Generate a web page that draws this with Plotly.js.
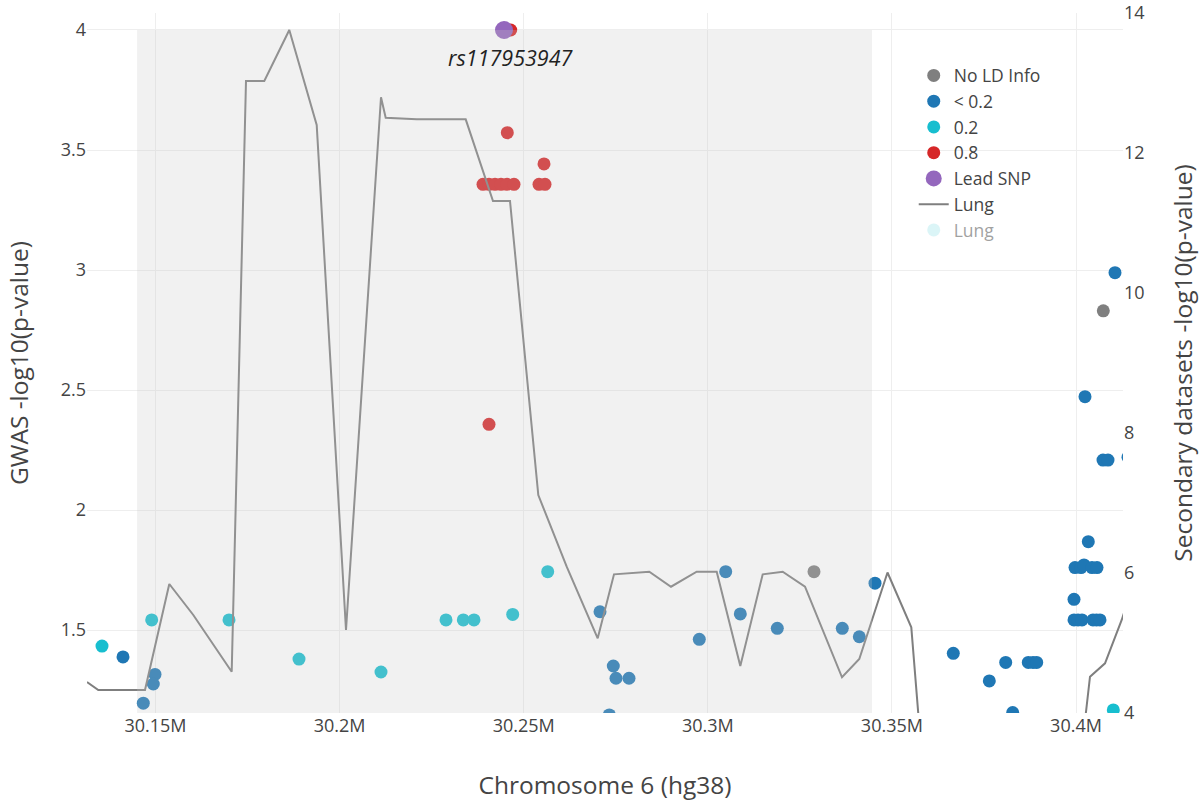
<!DOCTYPE html>
<html>
<head>
<meta charset="utf-8">
<script src="https://cdn.plot.ly/plotly-3.0.1.min.js"></script>
<style>html,body{margin:0;padding:0;background:#fff;}#chart{width:1199px;height:801px;}</style>
</head>
<body>
<div id="chart"></div>
<script>
// ---- GWAS points by LD category (x: position bp, y: -log10 p) ----
const noLdX = [30328843, 30407415];
const noLdY = [1.743, 2.830];

const ldLowX = [30141173, 30149864, 30149402, 30146687, 30270722, 30274335, 30273248, 30275068, 30278599,
  30297692, 30304862, 30308827, 30318876, 30336529, 30341146, 30345410, 30366676, 30376453, 30380907,
  30382808, 30387045, 30388321, 30389326, 30399457, 30399457, 30400543, 30401630, 30404617, 30405568,
  30406518, 30399728, 30401358, 30402173, 30404345, 30405703, 30403340, 30402444, 30407333, 30408691,
  30414123, 30410592];
const ldLowY = [1.388, 1.315, 1.275, 1.195, 1.576, 1.350, 1.146, 1.299, 1.299,
  1.461, 1.743, 1.567, 1.507, 1.507, 1.472, 1.695, 1.403, 1.288, 1.365,
  1.156, 1.365, 1.365, 1.365, 1.628, 1.542, 1.542, 1.542, 1.542, 1.542,
  1.542, 1.760, 1.760, 1.771, 1.760, 1.760, 1.868, 2.472, 2.208, 2.208,
  2.220, 2.989];

const ld02X = [30135470, 30148968, 30169962, 30188973, 30211244, 30228897, 30233596, 30236502, 30247012, 30256518, 30410130];
const ld02Y = [1.433, 1.542, 1.542, 1.379, 1.325, 1.542, 1.542, 1.542, 1.565, 1.743, 1.167];

const ld08X = [30246470, 30245546, 30255513, 30238946, 30240576, 30242205, 30243835, 30245464, 30247365, 30254155, 30255785, 30240576];
const ld08Y = [4.0, 3.572, 3.442, 3.357, 3.357, 3.357, 3.357, 3.357, 3.357, 3.357, 3.357, 2.357];

const leadX = [30244649];
const leadY = [4.0];
const leadName = 'rs117953947';

// ---- Secondary dataset: Lung (-log10 p) ----
const lungX = [30131396, 30134465, 30147148, 30153748, 30160266, 30170695, 30174579, 30179549, 30186339,
  30193780, 30201738, 30211244, 30212520, 30220940, 30234248, 30241662, 30246279, 30253965, 30261678,
  30270098, 30274525, 30284112, 30290005, 30296985, 30302417, 30308826, 30314910, 30320342, 30326399,
  30336448, 30341146, 30348805, 30355269, 30359000, 30401600, 30403802, 30407876, 30412412, 30414310];
const lungY = [4.443, 4.329, 4.329, 5.843, 5.400, 4.590, 13.029, 13.029, 13.757,
  12.400, 5.186, 12.796, 12.504, 12.481, 12.481, 11.314, 11.314, 7.114, 6.090,
  5.067, 5.981, 6.019, 5.804, 6.019, 6.019, 4.671, 5.981, 6.019, 5.804,
  4.510, 4.771, 6.007, 5.224, 2.800, 3.500, 4.519, 4.710, 5.329, 5.639];

const xTitle = 'Chromosome 6 (hg38)';
const yTitle = 'GWAS -log10(p-value)';
const y2Title = 'Secondary datasets -log10(p-value)';

const FONT = 'Open Sans, sans-serif';
const TITLE_SIZE = 24.5;
const TICK_SIZE = 18;

function pts(name, x, y, color, size) {
  return {type: 'scatter', mode: 'markers', name: name, x: x, y: y,
    marker: {color: color, size: size, line: {width: 0}}, xaxis: 'x', yaxis: 'y', cliponaxis: true};
}

const traces = [
  pts('No LD Info', noLdX, noLdY, '#7f7f7f', 13),
  pts('< 0.2', ldLowX, ldLowY, '#1f77b4', 13),
  pts('0.2', ld02X, ld02Y, '#17becf', 13),
  pts('0.8', ld08X, ld08Y, '#d62728', 13),
  pts('Lead SNP', leadX, leadY, '#9467bd', 18),
  {type: 'scatter', mode: 'lines', name: 'Lung', x: lungX, y: lungY, xaxis: 'x', yaxis: 'y2',
    line: {color: '#7f7f7f', width: 2}},
  {type: 'scatter', mode: 'markers', name: 'Lung', x: lungX, y: lungY, xaxis: 'x', yaxis: 'y2',
    visible: 'legendonly', opacity: 0.3, marker: {color: '#17becf', size: 13}}
];

const layout = {
  width: 1199, height: 801,
  margin: {l: 87, r: 76, t: 13, b: 88, pad: 0},
  paper_bgcolor: '#ffffff', plot_bgcolor: '#ffffff',
  font: {family: FONT, color: '#444', size: 16},
  showlegend: true,
  legend: {x: 0.798, y: 0.9364, xanchor: 'left', yanchor: 'top', bgcolor: 'rgba(0,0,0,0)',
    font: {family: FONT, size: 17.5, color: '#444'}, tracegroupgap: 0},
  xaxis: {range: [30131396, 30412765], tick0: 30150000, dtick: 50000, showgrid: true, gridcolor: '#eeeeee',
    zeroline: false, showline: false, ticks: '', tickfont: {size: TICK_SIZE, color: '#444'},
    title: {text: xTitle, font: {size: TITLE_SIZE, color: '#444'}}},
  yaxis: {range: [1.1542, 4.0708], tick0: 1.5, dtick: 0.5, showgrid: true, gridcolor: '#eeeeee',
    zeroline: false, showline: false, ticks: '', tickfont: {size: TICK_SIZE, color: '#444'},
    title: {text: yTitle, font: {size: TITLE_SIZE, color: '#444'}}},
  yaxis2: {overlaying: 'y', side: 'right', range: [4, 14], tick0: 4, dtick: 2, showgrid: false,
    zeroline: false, showline: false, ticks: '', tickfont: {size: TICK_SIZE, color: '#444'},
    title: {text: y2Title, font: {size: TITLE_SIZE, color: '#444'}}},
  shapes: [{type: 'rect', layer: 'above', xref: 'x', yref: 'y', x0: 30145000, x1: 30344600,
    y0: 1.1542, y1: 4.0, fillcolor: 'rgb(200,200,200)', opacity: 0.25, line: {width: 0}}],
  annotations: [{x: leadX[0], y: leadY[0], xref: 'x', yref: 'y', text: '<i>' + leadName + '</i>',
    showarrow: false, yshift: -28, xshift: 6, font: {family: FONT, size: 21.5, color: '#222'}}]
};

Plotly.newPlot('chart', traces, layout, {displayModeBar: false, responsive: false});
</script>
</body>
</html>
